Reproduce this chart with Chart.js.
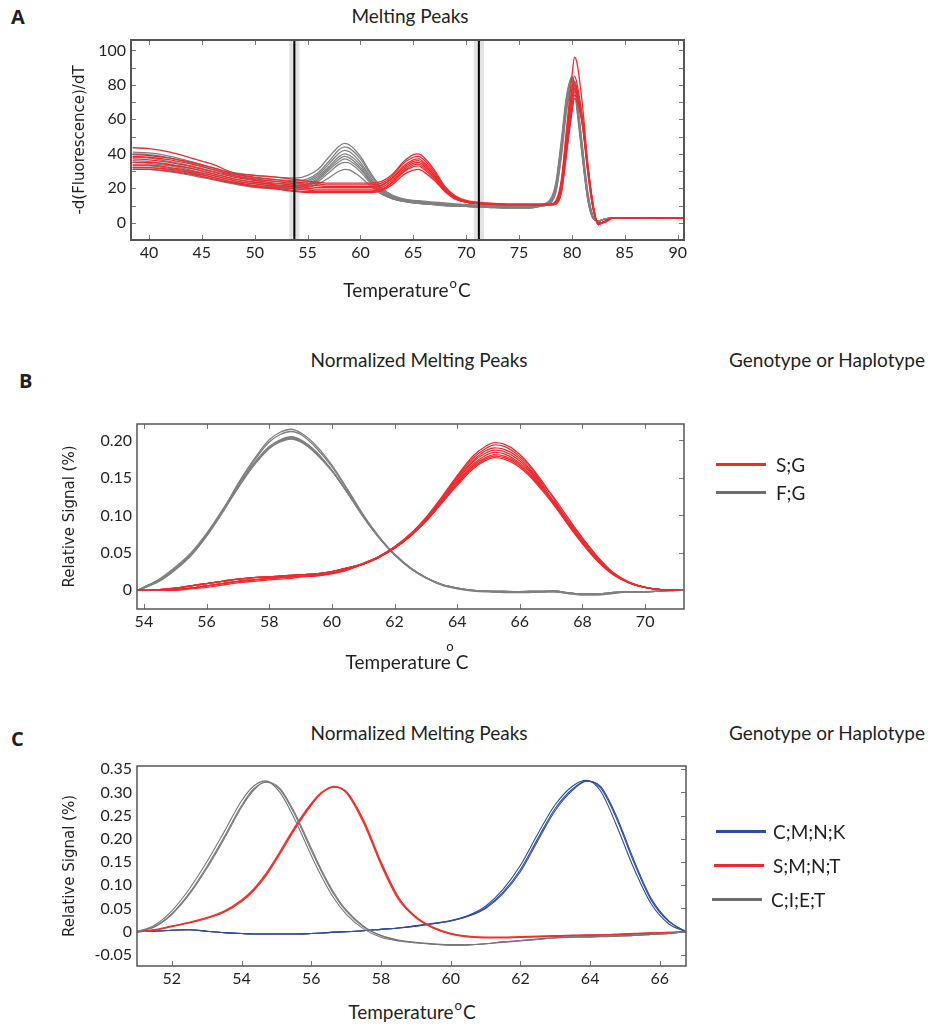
<!DOCTYPE html>
<html>
<head>
<meta charset="utf-8">
<script src="https://cdn.jsdelivr.net/npm/chart.js@4.4.1/dist/chart.umd.min.js"></script>
<style>
  html, body { margin: 0; padding: 0; background: #fff; }
  body { width: 931px; height: 1026px; position: relative; overflow: hidden;
         font-family: Lato, "Open Sans", sans-serif; color: #231f20; }
  canvas { position: absolute; left: 0; }
  .t { position: absolute; white-space: nowrap; font-size: 19px; line-height: 1; }
  .c { transform: translateX(-50%); }
  .letter { position: absolute; font-weight: bold; font-size: 20px; line-height: 1;
            font-family: "Open Sans", sans-serif; }
  .key { position: absolute; width: 50px; height: 3px; }
  .deg { font-size: 13px; position: relative; top: -9px; margin: 0 1px; }
  .degB { font-size: 13px; position: absolute; top: -10px; right: 2px; }
</style>
</head>
<body>

<div class="letter" style="left:11px;top:7px;">A</div>
<div class="t c" style="left:410px;top:6px;">Melting Peaks</div>
<canvas id="chartA" width="931" height="310" style="top:0px;"></canvas>
<div class="t c" style="left:407px;top:280px;">Temperature<span class="deg">o</span>C</div>

<div class="letter" style="left:19px;top:371px;">B</div>
<div class="t c" style="left:419px;top:350px;">Normalized Melting Peaks</div>
<div class="t" style="left:729px;top:350px;">Genotype or Haplotype</div>
<canvas id="chartB" width="931" height="240" style="top:400px;"></canvas>
<div class="key" style="left:716px;top:463px;background:#ee2a2e;"></div>
<div class="t" style="left:776px;top:455px;">S;G</div>
<div class="key" style="left:716px;top:491px;background:#6d6e70;"></div>
<div class="t" style="left:776px;top:483px;">F;G</div>
<div class="t c" style="left:407px;top:652px;"><span style="position:relative;">Temperature <span class="degB">o</span></span>C</div>

<div class="letter" style="left:11px;top:729px;">C</div>
<div class="t c" style="left:419px;top:723px;">Normalized Melting Peaks</div>
<div class="t" style="left:729px;top:723px;">Genotype or Haplotype</div>
<canvas id="chartC" width="931" height="250" style="top:745px;"></canvas>
<div class="key" style="left:716px;top:830px;background:#2f4d9e;"></div>
<div class="t" style="left:773px;top:822px;">C;M;N;K</div>
<div class="key" style="left:714px;top:864px;background:#ee2a2e;"></div>
<div class="t" style="left:773px;top:856px;">S;M;N;T</div>
<div class="key" style="left:712px;top:898px;background:#6d6e70;"></div>
<div class="t" style="left:771px;top:890px;">C;I;E;T</div>
<div class="t c" style="left:412px;top:1002px;">Temperature<span class="deg">o</span>C</div>

<script>
// ---------- Panel A: raw melting peaks ----------
const aTemps = [38.5, 40, 42, 44, 46, 48, 50, 52, 54, 55, 56, 57, 58, 58.5, 59, 60, 61, 62, 63, 64,
                65, 65.5, 66, 67, 68, 69, 70, 72, 74, 76, 77, 78, 78.5, 79, 79.5, 80, 80.25, 80.5, 81, 81.5,
                82, 82.5, 83, 84, 87, 90.6];
const aXTicks = [40, 45, 50, 55, 60, 65, 70, 75, 80, 85, 90];
const aYTicks = [0, 20, 40, 60, 80, 100];
const aNormRange = [53.75, 71.2];

// S;G samples (red)
const aRedRuns = [
  [43.5, 43, 41, 37.5, 34, 29, 27.5, 26.5, 25, 24, 23.5, 23, 23, 23, 23, 23, 23, 24, 28, 35, 39.5, 40, 38, 30.5, 21, 15.5, 13, 11.5, 11, 11, 11, 11, 13, 25, 55, 85, 96, 92, 68, 35, 10, 0, 0, 3, 3, 2.5],
  [39.5, 39, 37.5, 35, 32, 28.5, 26.5, 25, 23.5, 23, 22.5, 22, 22, 22, 22, 22, 22, 23, 27, 34, 38, 38.5, 36.5, 29.5, 20.5, 15, 12.5, 11, 10.5, 10.5, 10.5, 10.5, 12, 22, 50, 78, 85, 80, 60, 30, 8, -0.5, 0.5, 3, 3, 2.5],
  [38.5, 38, 36.5, 34, 31, 27.5, 25.5, 24, 22.5, 22, 21.5, 21, 21, 21, 21, 21, 21, 22, 26, 32.5, 36.5, 37, 35, 28.5, 20, 14.5, 12, 11, 10.5, 10.5, 10.5, 10.5, 11.5, 20, 46, 72, 80, 77, 60, 32, 9, -1, 0.5, 3, 3, 2.5],
  [37, 36.5, 35, 32.5, 29.5, 26.5, 24.5, 23, 21.5, 21, 20.5, 20.5, 20.5, 20.5, 20.5, 20.5, 20.5, 21.5, 25.5, 31.5, 35.5, 36, 34, 27.5, 19.5, 14.5, 12, 11, 10.5, 10.5, 10.5, 10.5, 11.5, 21, 47, 71, 78, 75, 58, 31, 9, -1, 0.5, 3, 3, 2.5],
  [35, 35, 33.5, 31.5, 28.5, 25.5, 23.5, 22, 20.5, 20, 19.5, 19.5, 19.5, 19.5, 19.5, 19.5, 19.5, 20.5, 24.5, 30.5, 34.5, 35, 33, 27, 19, 14, 12, 11, 10.5, 10.5, 10.5, 10.5, 11, 19, 44, 68, 76, 74, 59, 33, 10, -1, 0.5, 3, 3, 2.5],
  [33.5, 33.5, 32, 30, 27.5, 24.5, 22.5, 21, 19.5, 19, 18.5, 18.5, 18.5, 18.5, 18.5, 18.5, 18.5, 19.5, 23.5, 29.5, 33.5, 34, 32, 26, 18.5, 14, 12, 11, 10.5, 10.5, 10.5, 10.5, 11, 18, 42, 66, 74, 72, 57, 32, 10, -1, 0.5, 3, 3, 2.5],
  [32, 32, 31, 29, 26.5, 23.5, 21.5, 20, 18.5, 18, 18, 18, 18, 18, 18, 18, 18, 19, 23, 29, 32.5, 33, 31, 25.5, 18.5, 14, 12, 11, 10.5, 10.5, 10.5, 10.5, 12, 23, 52, 76, 82, 77, 57, 29, 8, -0.5, 0.5, 3, 3, 2.5],
  [31, 31, 30, 28, 25.5, 23, 21, 19.5, 18, 17.5, 17.5, 17.5, 17.5, 17.5, 17.5, 17.5, 17.5, 18.5, 22, 27.5, 30.5, 31, 29.5, 24.5, 18, 13.5, 12, 11, 10.5, 10.5, 10.5, 10.5, 11, 17, 40, 64, 72, 70, 56, 32, 11, -1, 0.5, 3, 3, 2.5]
];

// F;G samples (gray)
const aGrayRuns = [
  [41, 40.5, 38.5, 35.5, 32, 29, 27.5, 26.5, 26, 27.5, 31, 38, 44.5, 46, 45, 38.5, 28.5, 20.5, 16, 14, 13, 12.8, 12.5, 12, 11.5, 11, 10.5, 10, 9.5, 9.5, 10, 13, 22, 45, 72, 85, 80, 68, 40, 15, 3, 1, 2, 3, 3, 2.5],
  [40, 39.5, 37.5, 34.5, 31, 28, 26, 25, 24.5, 25.5, 29, 35.5, 42.5, 44, 43, 37, 27.5, 20, 15.5, 13.5, 12.5, 12.3, 12, 11.5, 11, 10.5, 10.5, 10, 9.5, 9.5, 10.5, 14, 24, 48, 74, 84, 79, 66, 38, 14, 2.5, 1, 2, 3, 3, 2.5],
  [38, 37.5, 35.5, 33, 30, 27, 25, 24, 23.5, 24.5, 28, 34, 40.5, 42, 41, 35, 26, 19, 15, 13.5, 12.5, 12.3, 12, 11.5, 11, 10.5, 10, 9.5, 9, 9, 10, 12.5, 21, 43, 70, 83, 80, 69, 42, 16, 3, 1, 2, 3, 3, 2.5],
  [36, 35.5, 34, 31.5, 28.5, 25.5, 23.5, 22.5, 22.5, 23.5, 27, 32.5, 38.5, 40, 39, 33.5, 25, 18.5, 14.5, 13, 12, 11.8, 11.5, 11, 10.5, 10, 10, 9.5, 9, 9, 10, 12, 20, 42, 69, 84, 81, 70, 43, 17, 3.5, 1, 2, 3, 3, 2.5],
  [35, 34.5, 33, 30.5, 27.5, 24.5, 22.5, 21.5, 21.5, 22.5, 26, 31.5, 37, 38.5, 37.5, 32, 24, 18, 14.5, 13, 12, 11.8, 11.5, 11, 10.5, 10, 9.5, 9, 9, 9, 10, 13, 23, 46, 72, 82, 77, 64, 37, 13, 2.5, 1, 2, 3, 3, 2.5],
  [33, 33, 31.5, 29.5, 26.5, 23.5, 21.5, 21, 21, 22, 25, 30.5, 35.5, 37, 36, 31, 23.5, 17.5, 14, 12.5, 11.5, 11.3, 11, 10.5, 10, 10, 9.5, 9, 9, 9, 10, 12, 19, 40, 67, 80, 78, 68, 41, 16, 3, 1, 2, 3, 3, 2.5],
  [32, 32, 30.5, 28.5, 25.5, 23, 21, 20.5, 20.5, 21.5, 24, 29, 34, 35, 34.5, 29.5, 22.5, 17, 14, 12.5, 11.5, 11.3, 11, 10.5, 10, 9.5, 9.5, 9, 8.5, 8.5, 9.5, 12, 21, 44, 71, 83, 79, 67, 39, 14, 2.5, 1, 2, 3, 3, 2.5],
  [31, 31, 29.5, 27.5, 25, 22.5, 20.5, 20, 20, 20.5, 22.5, 26, 30, 31, 30.5, 26.5, 21, 16.5, 14, 12.5, 11.5, 11.3, 11, 10.5, 10, 9.5, 9.5, 9, 8.5, 8.5, 9.5, 11.5, 18, 38, 65, 79, 78, 70, 44, 18, 4, 1, 2, 3, 3, 2.5]
];

// ---------- Panel B: normalized peaks, two genotypes ----------
const bTemps = [53.8, 54, 54.5, 55, 55.5, 56, 56.5, 57, 57.5, 58, 58.35, 58.7, 59.05, 59.5, 60, 60.5, 61, 61.5,
                62, 62.5, 63, 63.5, 64, 64.5, 64.9, 65.2, 65.5, 65.9, 66.3, 66.7, 67.1, 67.5, 68, 68.5, 69,
                69.5, 70, 70.5, 71, 71.2];
const bXTicks = [54, 56, 58, 60, 62, 64, 66, 68, 70];
const bYTicks = [0, 0.05, 0.10, 0.15, 0.20];
const bYLabels = ['0', '0.05', '0.10', '0.15', '0.20'];

// S;G
const bRedRuns = [
  [0, 0, 0.000, 0.000, 0.002, 0.004, 0.007, 0.010, 0.012, 0.014, 0.015, 0.016, 0.018, 0.019, 0.022, 0.027, 0.036, 0.045, 0.058, 0.075, 0.097, 0.124, 0.153, 0.179, 0.192, 0.197, 0.195, 0.185, 0.168, 0.146, 0.121, 0.095, 0.065, 0.040, 0.021, 0.010, 0.004, 0.001, 0.000, 0],
  [0, 0, 0.001, 0.003, 0.006, 0.009, 0.012, 0.015, 0.017, 0.018, 0.019, 0.020, 0.021, 0.022, 0.025, 0.030, 0.036, 0.045, 0.058, 0.075, 0.096, 0.123, 0.151, 0.176, 0.189, 0.194, 0.192, 0.182, 0.166, 0.144, 0.123, 0.099, 0.070, 0.044, 0.023, 0.011, 0.004, 0.001, 0.000, 0],
  [0, 0, 0.000, 0.001, 0.003, 0.006, 0.009, 0.012, 0.014, 0.016, 0.017, 0.018, 0.019, 0.020, 0.023, 0.028, 0.035, 0.045, 0.057, 0.074, 0.095, 0.121, 0.149, 0.173, 0.186, 0.190, 0.188, 0.179, 0.163, 0.142, 0.116, 0.090, 0.062, 0.038, 0.020, 0.010, 0.004, 0.001, 0.000, 0],
  [0, 0, 0.001, 0.003, 0.006, 0.009, 0.012, 0.015, 0.017, 0.018, 0.019, 0.020, 0.021, 0.022, 0.025, 0.030, 0.035, 0.045, 0.057, 0.073, 0.094, 0.120, 0.147, 0.171, 0.183, 0.187, 0.185, 0.176, 0.161, 0.140, 0.117, 0.092, 0.064, 0.039, 0.021, 0.010, 0.004, 0.001, 0.000, 0],
  [0, 0, 0.000, 0.001, 0.003, 0.006, 0.009, 0.012, 0.014, 0.016, 0.017, 0.018, 0.019, 0.020, 0.023, 0.028, 0.035, 0.044, 0.057, 0.073, 0.094, 0.119, 0.145, 0.168, 0.180, 0.184, 0.182, 0.173, 0.159, 0.138, 0.117, 0.095, 0.067, 0.041, 0.022, 0.010, 0.004, 0.001, 0.000, 0],
  [0, 0, 0.001, 0.003, 0.006, 0.009, 0.012, 0.015, 0.017, 0.018, 0.019, 0.020, 0.021, 0.022, 0.025, 0.030, 0.035, 0.044, 0.056, 0.072, 0.093, 0.117, 0.143, 0.166, 0.177, 0.181, 0.179, 0.171, 0.156, 0.137, 0.114, 0.091, 0.063, 0.039, 0.021, 0.010, 0.004, 0.001, 0.000, 0],
  [0, 0, 0.000, 0.001, 0.003, 0.006, 0.009, 0.012, 0.014, 0.016, 0.017, 0.018, 0.019, 0.020, 0.023, 0.028, 0.035, 0.044, 0.056, 0.072, 0.092, 0.116, 0.142, 0.164, 0.175, 0.179, 0.177, 0.169, 0.155, 0.136, 0.118, 0.096, 0.069, 0.043, 0.023, 0.010, 0.004, 0.001, 0.000, 0],
  [0, 0, 0.001, 0.003, 0.006, 0.009, 0.012, 0.015, 0.017, 0.018, 0.019, 0.020, 0.021, 0.022, 0.025, 0.030, 0.035, 0.044, 0.056, 0.072, 0.092, 0.116, 0.140, 0.162, 0.173, 0.177, 0.175, 0.167, 0.153, 0.134, 0.113, 0.090, 0.063, 0.039, 0.021, 0.010, 0.004, 0.001, 0.000, 0]
];

// F;G
const bGrayRuns = [
  [0, 0.004, 0.014, 0.029, 0.048, 0.074, 0.105, 0.142, 0.174, 0.201, 0.211, 0.215, 0.209, 0.193, 0.167, 0.135, 0.101, 0.072, 0.048, 0.030, 0.017, 0.008, 0.003, 0.000, -0.001, -0.002, -0.002, -0.002, -0.002, -0.002, -0.001, -0.003, -0.005, -0.005, -0.003, -0.002, -0.002, -0.001, 0, 0],
  [0, 0.004, 0.014, 0.029, 0.048, 0.074, 0.105, 0.141, 0.172, 0.198, 0.208, 0.212, 0.207, 0.190, 0.165, 0.133, 0.100, 0.071, 0.048, 0.030, 0.017, 0.008, 0.003, 0.000, -0.001, -0.002, -0.002, -0.002, -0.002, -0.002, -0.001, -0.003, -0.005, -0.005, -0.003, -0.002, -0.002, -0.001, 0, 0],
  [0, 0.004, 0.015, 0.031, 0.050, 0.076, 0.107, 0.139, 0.169, 0.192, 0.201, 0.205, 0.200, 0.185, 0.160, 0.130, 0.099, 0.071, 0.048, 0.030, 0.017, 0.008, 0.003, 0.000, -0.001, -0.002, -0.002, -0.002, -0.002, -0.002, -0.001, -0.003, -0.005, -0.005, -0.003, -0.002, -0.002, -0.001, 0, 0],
  [0, 0.004, 0.014, 0.029, 0.048, 0.074, 0.105, 0.137, 0.167, 0.191, 0.200, 0.204, 0.199, 0.184, 0.160, 0.130, 0.099, 0.071, 0.048, 0.030, 0.017, 0.008, 0.003, 0.000, -0.001, -0.002, -0.003, -0.003, -0.003, -0.002, -0.002, -0.004, -0.006, -0.006, -0.004, -0.002, -0.002, -0.001, 0, 0],
  [0, 0.003, 0.012, 0.027, 0.046, 0.072, 0.103, 0.137, 0.167, 0.190, 0.199, 0.203, 0.198, 0.183, 0.160, 0.130, 0.099, 0.071, 0.048, 0.030, 0.017, 0.008, 0.003, 0.000, -0.001, -0.001, -0.001, -0.002, -0.001, -0.001, -0.001, -0.003, -0.005, -0.005, -0.003, -0.002, -0.002, -0.001, 0, 0],
  [0, 0.003, 0.013, 0.028, 0.047, 0.073, 0.104, 0.136, 0.166, 0.189, 0.198, 0.202, 0.197, 0.182, 0.159, 0.130, 0.098, 0.070, 0.047, 0.029, 0.016, 0.007, 0.002, -0.001, -0.002, -0.002, -0.002, -0.002, -0.002, -0.002, -0.002, -0.004, -0.006, -0.006, -0.004, -0.002, -0.002, -0.001, 0, 0]
];

// ---------- Panel C: normalized peaks, three haplotypes ----------
const cTemps = [51, 51.5, 52, 52.5, 53, 53.5, 54, 54.35, 54.7, 55.1, 55.5, 56, 56.3, 56.65, 57, 57.5, 58, 58.5,
                59, 59.5, 60, 60.5, 61, 61.5, 62, 62.5, 63, 63.5, 63.9, 64.3, 64.75, 65.25, 65.75, 66.25, 66.75];
const cXTicks = [52, 54, 56, 58, 60, 62, 64, 66];
const cYTicks = [-0.05, 0, 0.05, 0.10, 0.15, 0.20, 0.25, 0.30, 0.35];
const cYLabels = ['-0.05', '0', '0.05', '0.10', '0.15', '0.20', '0.25', '0.30', '0.35'];

// C;M;N;K
const cBlueRuns = [
  [0, 0.001, 0.003, 0.004, 0.001, -0.002, -0.004, -0.005, -0.005, -0.005, -0.005, -0.004, -0.003, -0.001, 0.000, 0.002, 0.005, 0.008, 0.013, 0.018, 0.024, 0.035, 0.055, 0.091, 0.143, 0.211, 0.274, 0.314, 0.326, 0.303, 0.230, 0.137, 0.060, 0.017, 0],
  [0, 0.001, 0.003, 0.004, 0.001, -0.002, -0.004, -0.005, -0.005, -0.005, -0.005, -0.004, -0.003, -0.001, 0.000, 0.002, 0.005, 0.008, 0.012, 0.017, 0.023, 0.033, 0.050, 0.082, 0.129, 0.196, 0.261, 0.305, 0.324, 0.313, 0.250, 0.155, 0.072, 0.024, 0],
  [0, 0.001, 0.003, 0.004, 0.001, -0.002, -0.004, -0.005, -0.005, -0.005, -0.005, -0.004, -0.003, -0.001, 0.000, 0.002, 0.005, 0.008, 0.012, 0.017, 0.023, 0.034, 0.052, 0.085, 0.134, 0.201, 0.266, 0.308, 0.325, 0.310, 0.245, 0.150, 0.068, 0.022, 0]
];

// S;M;N;T
const cRedRuns = [
  [0, 0.004, 0.012, 0.020, 0.030, 0.044, 0.068, 0.092, 0.125, 0.172, 0.222, 0.276, 0.300, 0.313, 0.300, 0.235, 0.145, 0.070, 0.030, 0.008, -0.005, -0.011, -0.013, -0.013, -0.012, -0.011, -0.010, -0.009, -0.008, -0.007, -0.006, -0.005, -0.003, -0.002, 0],
  [0, 0.003, 0.011, 0.019, 0.029, 0.042, 0.065, 0.089, 0.121, 0.168, 0.218, 0.273, 0.299, 0.312, 0.302, 0.240, 0.150, 0.074, 0.032, 0.009, -0.004, -0.010, -0.012, -0.012, -0.011, -0.010, -0.009, -0.008, -0.007, -0.007, -0.006, -0.004, -0.003, -0.002, 0]
];

// C;I;E;T
const cGrayRuns = [
  [0, 0.014, 0.045, 0.092, 0.150, 0.215, 0.282, 0.314, 0.325, 0.300, 0.246, 0.164, 0.118, 0.072, 0.038, 0.006, -0.012, -0.020, -0.024, -0.027, -0.029, -0.029, -0.026, -0.023, -0.020, -0.017, -0.013, -0.012, -0.012, -0.011, -0.010, -0.008, -0.006, -0.004, 0],
  [0, 0.010, 0.037, 0.080, 0.136, 0.200, 0.268, 0.305, 0.323, 0.309, 0.260, 0.180, 0.132, 0.084, 0.047, 0.012, -0.008, -0.018, -0.023, -0.026, -0.028, -0.028, -0.026, -0.022, -0.019, -0.016, -0.013, -0.011, -0.011, -0.010, -0.009, -0.008, -0.006, -0.004, 0],
  [0, 0.011, 0.039, 0.083, 0.140, 0.204, 0.272, 0.308, 0.322, 0.306, 0.256, 0.175, 0.128, 0.080, 0.044, 0.010, -0.009, -0.019, -0.024, -0.027, -0.029, -0.028, -0.026, -0.022, -0.019, -0.016, -0.013, -0.012, -0.011, -0.010, -0.009, -0.008, -0.006, -0.004, 0]
];

// ---------- drawing ----------
const INK = '#231f20';
const RED = '#ee2a2e';
const GRAY = '#808080';

// Plot frame, inward tick marks and optional normalization markers.
const framePlugin = {
  id: 'frame',
  beforeDatasetsDraw(chart, _args, o) {
    if (!o.markers) return;
    const { ctx, chartArea: a, scales: { x } } = chart;
    ctx.save();
    ctx.fillStyle = o.bandColor;
    o.markers.forEach(m => {
      const l = x.getPixelForValue(m - o.bandHalf);
      const r = x.getPixelForValue(m + o.bandHalf);
      ctx.fillRect(l, a.top, r - l, a.bottom - a.top);
    });
    ctx.restore();
  },
  afterDatasetsDraw(chart, _args, o) {
    const { ctx, chartArea: a, scales: { x, y } } = chart;
    ctx.save();
    if (o.markers) {
      ctx.strokeStyle = '#000';
      ctx.lineWidth = 2;
      o.markers.forEach(m => {
        const p = x.getPixelForValue(m);
        ctx.beginPath();
        ctx.moveTo(p, a.top);
        ctx.lineTo(p, a.bottom);
        ctx.stroke();
      });
    }
    const each = (scale, step, fn) => {
      for (let k = Math.ceil(scale.min / step - 1e-6); k * step <= scale.max + 1e-9; k++) {
        fn(Math.round(scale.getPixelForValue(k * step)) + 0.5);
      }
    };
    ctx.strokeStyle = o.tickColor;
    ctx.lineWidth = 1;
    ctx.beginPath();
    each(x, o.xStep, p => {
      if (o.sides.includes('top')) { ctx.moveTo(p, a.top); ctx.lineTo(p, a.top + o.len); }
      if (o.sides.includes('bottom')) { ctx.moveTo(p, a.bottom); ctx.lineTo(p, a.bottom - o.len); }
    });
    each(y, o.yStep, p => {
      if (o.sides.includes('left')) { ctx.moveTo(a.left, p); ctx.lineTo(a.left + o.len, p); }
      if (o.sides.includes('right')) { ctx.moveTo(a.right, p); ctx.lineTo(a.right - o.len, p); }
    });
    ctx.stroke();
    ctx.strokeStyle = o.color;
    ctx.lineWidth = o.width;
    ctx.strokeRect(a.left, a.top, a.right - a.left, a.bottom - a.top);
    ctx.restore();
  }
};

const runs = (xs, rows, color, width) => rows.map(r => ({
  data: r.map((v, i) => ({ x: xs[i], y: v })),
  borderColor: color,
  borderWidth: width,
  fill: false
}));

const tickFont = { family: 'Lato', size: 16 };

function panel(id, c) {
  return new Chart(document.getElementById(id), {
    type: 'line',
    data: { datasets: c.datasets },
    options: {
      responsive: false,
      animation: false,
      devicePixelRatio: 1,
      events: [],
      layout: { padding: c.padding },
      elements: {
        point: { radius: 0 },
        line: { cubicInterpolationMode: 'monotone', borderJoinStyle: 'round', borderCapStyle: 'round' }
      },
      plugins: { legend: { display: false }, tooltip: { enabled: false }, frame: c.frame },
      scales: {
        x: {
          type: 'linear', min: c.xMin, max: c.xMax,
          afterFit: s => { s.height = c.xHeight; },
          afterBuildTicks: s => { s.ticks = c.xTicks.map(v => ({ value: v })); },
          grid: { display: false, drawTicks: false },
          border: { display: false },
          ticks: { color: INK, font: tickFont, padding: c.xPad, autoSkip: false, maxRotation: 0,
                   callback: (v, i) => c.xLabels[i] }
        },
        y: {
          type: 'linear', min: c.yMin, max: c.yMax,
          afterFit: s => { s.width = c.yWidth; },
          afterBuildTicks: s => { s.ticks = c.yTicks.map(v => ({ value: v })); },
          grid: { display: false, drawTicks: false },
          border: { display: false },
          ticks: { color: INK, font: tickFont, padding: 5, autoSkip: false,
                   callback: (v, i) => c.yLabels[i] },
          title: { display: true, text: c.yTitle, color: INK,
                   font: { family: 'DejaVu Sans', size: 15 },
                   padding: { top: c.yTitlePad, bottom: 0 } }
        }
      }
    },
    plugins: [framePlugin]
  });
}

panel('chartA', {
  datasets: [...runs(aTemps, aRedRuns, RED, 1.3), ...runs(aTemps, aGrayRuns, GRAY, 1.3)],
  padding: { left: 0, top: 40, right: 247, bottom: 0 },
  xMin: 38.3, xMax: 90.6, yMin: -10, yMax: 106,
  xTicks: aXTicks, xLabels: aXTicks.map(String),
  yTicks: aYTicks, yLabels: aYTicks.map(String),
  xHeight: 70, yWidth: 131, xPad: 3, yTitlePad: 71,
  yTitle: '-d(Fluorescence)/dT',
  frame: { color: '#555', width: 2, tickColor: '#777', len: 5, xStep: 5, yStep: 10,
           sides: ['top', 'bottom', 'left', 'right'],
           markers: aNormRange, bandHalf: 0.48, bandColor: '#e2e2e2' }
});

panel('chartB', {
  datasets: [...runs(bTemps, bRedRuns, RED, 1.3), ...runs(bTemps, bGrayRuns, GRAY, 1.3)],
  padding: { left: 0, top: 24, right: 247, bottom: 0 },
  xMin: 53.78, xMax: 71.24, yMin: -0.025, yMax: 0.222,
  xTicks: bXTicks, xLabels: bXTicks.map(String),
  yTicks: bYTicks, yLabels: bYLabels,
  xHeight: 31, yWidth: 137, xPad: 3, yTitlePad: 61,
  yTitle: 'Relative Signal (%)',
  frame: { color: '#555', width: 1.5, tickColor: '#777', len: 5, xStep: 2, yStep: 0.05,
           sides: ['top', 'bottom', 'right'] }
});

panel('chartC', {
  datasets: [...runs(cTemps, cGrayRuns, '#777777', 1.1), ...runs(cTemps, cRedRuns, '#f0302c', 1.5),
             ...runs(cTemps, cBlueRuns, '#2f4d9e', 1.1)],
  padding: { left: 0, top: 21, right: 245, bottom: 0 },
  xMin: 51, xMax: 66.75, yMin: -0.074, yMax: 0.357,
  xTicks: cXTicks, xLabels: cXTicks.map(String),
  yTicks: cYTicks, yLabels: cYLabels,
  xHeight: 29, yWidth: 137, xPad: 3, yTitlePad: 61,
  yTitle: 'Relative Signal (%)',
  frame: { color: '#555', width: 1.5, tickColor: '#777', len: 5, xStep: 2, yStep: 0.05,
           sides: ['bottom', 'right'] }
});
</script>
</body>
</html>
